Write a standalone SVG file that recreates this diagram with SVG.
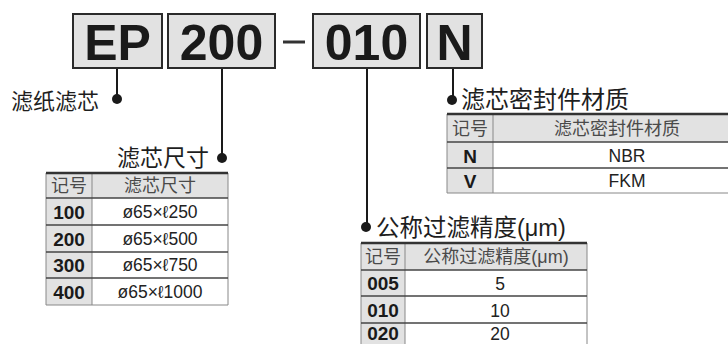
<svg xmlns="http://www.w3.org/2000/svg" width="728" height="344" viewBox="0 0 728 344">
<style>
.box{fill:#e2e2e2;stroke:#2a2a2a;stroke-width:2}
.code{font-family:"Liberation Sans",Arial,sans-serif;font-weight:bold;font-size:50px;fill:#1a1a1a;text-anchor:middle}
.title{font-family:"Liberation Sans","Noto Sans CJK SC",sans-serif;fill:#1e1e1e}
.conn{stroke:#1a1a1a;stroke-width:2;fill:none}
.dot{fill:#1a1a1a}
.hdr{fill:#e2e2e2}
.cell{fill:#ffffff}
.keyc{fill:#e2e2e2}
.th{font-family:"Liberation Sans","Noto Sans CJK SC",sans-serif;font-size:18px;fill:#4a4a4a;text-anchor:middle}
.k{font-family:"Liberation Sans",Arial,sans-serif;font-weight:bold;font-size:19px;fill:#1a1a1a;text-anchor:middle}
.v{font-family:"Liberation Sans","DejaVu Sans",sans-serif;font-size:17.5px;fill:#222;text-anchor:middle}
.top{stroke:#333;stroke-width:2.5}
.row{stroke:#444;stroke-width:1.5}
.side{stroke:#888;stroke-width:1}
</style>

<g id="code-EP"><rect class="box" x="73" y="14" width="89" height="54"/><text class="code" x="117.5" y="60">EP</text></g>
<g id="code-200"><rect class="box" x="168" y="14" width="107" height="54"/><text class="code" x="221.5" y="60">200</text></g>
<g id="dash"><line x1="283" y1="42" x2="305" y2="42" stroke="#333" stroke-width="3"/></g>
<g id="code-010"><rect class="box" x="313" y="14" width="107" height="54"/><text class="code" x="366.5" y="60">010</text></g>
<g id="code-N"><rect class="box" x="427" y="14" width="55" height="54"/><text class="code" x="454.5" y="60">N</text></g>

<g id="connectors">
<line class="conn" x1="117" y1="69" x2="117" y2="99"/>
<circle class="dot" cx="117" cy="99" r="5"/>
<line class="conn" x1="222" y1="69" x2="222" y2="158"/>
<circle class="dot" cx="222" cy="158" r="5"/>
<line class="conn" x1="367" y1="69" x2="367" y2="227"/>
<circle class="dot" cx="366" cy="227" r="5"/>
<line class="conn" x1="453" y1="69" x2="453" y2="100"/>
<circle class="dot" cx="452" cy="100" r="5"/>
</g>

<g id="label-type"><text class="title" x="11" y="109" font-size="22">滤纸滤芯</text></g>
<g id="label-size"><text class="title" x="117" y="166" font-size="23">滤芯尺寸</text></g>
<g id="label-seal"><text class="title" x="461" y="108" font-size="24">滤芯密封件材质</text></g>
<g id="label-rating"><text class="title" x="376" y="236" font-size="23.5">公称过滤精度(μm)</text></g>

<g id="table-size">
<rect class="hdr" x="46" y="173" width="182" height="25"/>
<rect class="keyc" x="46" y="198" width="46" height="107"/>
<rect class="cell" x="92" y="198" width="136" height="107"/>
<line class="side" x1="46" y1="173" x2="46" y2="305"/>
<line class="side" x1="228" y1="173" x2="228" y2="305"/>
<line class="side" x1="92" y1="173" x2="92" y2="305"/>
<line class="top" x1="46" y1="173" x2="228" y2="173"/>
<line class="row" x1="46" y1="198" x2="228" y2="198"/>
<line class="row" x1="46" y1="225" x2="228" y2="225"/>
<line class="row" x1="46" y1="252" x2="228" y2="252"/>
<line class="row" x1="46" y1="278" x2="228" y2="278"/>
<line class="side" x1="46" y1="305" x2="228" y2="305"/>
<text class="th" x="69" y="192">记号</text>
<text class="th" x="160" y="192">滤芯尺寸</text>
<text class="k" x="69" y="219">100</text><text class="v" x="160" y="218">ø65×ℓ250</text>
<text class="k" x="69" y="246">200</text><text class="v" x="160" y="245">ø65×ℓ500</text>
<text class="k" x="69" y="272">300</text><text class="v" x="160" y="271">ø65×ℓ750</text>
<text class="k" x="69" y="299">400</text><text class="v" x="160" y="298">ø65×ℓ1000</text>
</g>

<g id="table-seal">
<rect class="hdr" x="447" y="114" width="290" height="28"/>
<rect class="keyc" x="447" y="142" width="46" height="51"/>
<rect class="cell" x="493" y="142" width="244" height="51"/>
<line class="side" x1="447" y1="114" x2="447" y2="193"/>
<line class="side" x1="493" y1="114" x2="493" y2="193"/>
<line class="top" x1="447" y1="114" x2="737" y2="114"/>
<line class="row" x1="447" y1="142" x2="737" y2="142"/>
<line class="row" x1="447" y1="168" x2="737" y2="168"/>
<line class="side" x1="447" y1="193" x2="737" y2="193"/>
<text class="th" x="470" y="135">记号</text>
<text class="th" x="617" y="135">滤芯密封件材质</text>
<text class="k" x="470" y="163">N</text><text class="v" x="627" y="162">NBR</text>
<text class="k" x="470" y="188">V</text><text class="v" x="627" y="187">FKM</text>
</g>

<g id="table-rating">
<rect class="hdr" x="361" y="243" width="226" height="27"/>
<rect class="keyc" x="361" y="270" width="44" height="80"/>
<rect class="cell" x="405" y="270" width="182" height="80"/>
<line class="side" x1="361" y1="243" x2="361" y2="350"/>
<line class="side" x1="405" y1="243" x2="405" y2="350"/>
<line class="side" x1="587" y1="243" x2="587" y2="350"/>
<line class="top" x1="361" y1="243" x2="587" y2="243"/>
<line class="row" x1="361" y1="270" x2="587" y2="270"/>
<line class="row" x1="361" y1="296" x2="587" y2="296"/>
<line class="row" x1="361" y1="323" x2="587" y2="323"/>
<text class="th" x="383" y="263">记号</text>
<text class="th" x="496" y="263">公称过滤精度(μm)</text>
<text class="k" x="383" y="290">005</text><text class="v" x="500" y="290">5</text>
<text class="k" x="383" y="317">010</text><text class="v" x="500" y="317">10</text>
<text class="k" x="383" y="339.5">020</text><text class="v" x="500" y="339.5">20</text>
</g>
</svg>
